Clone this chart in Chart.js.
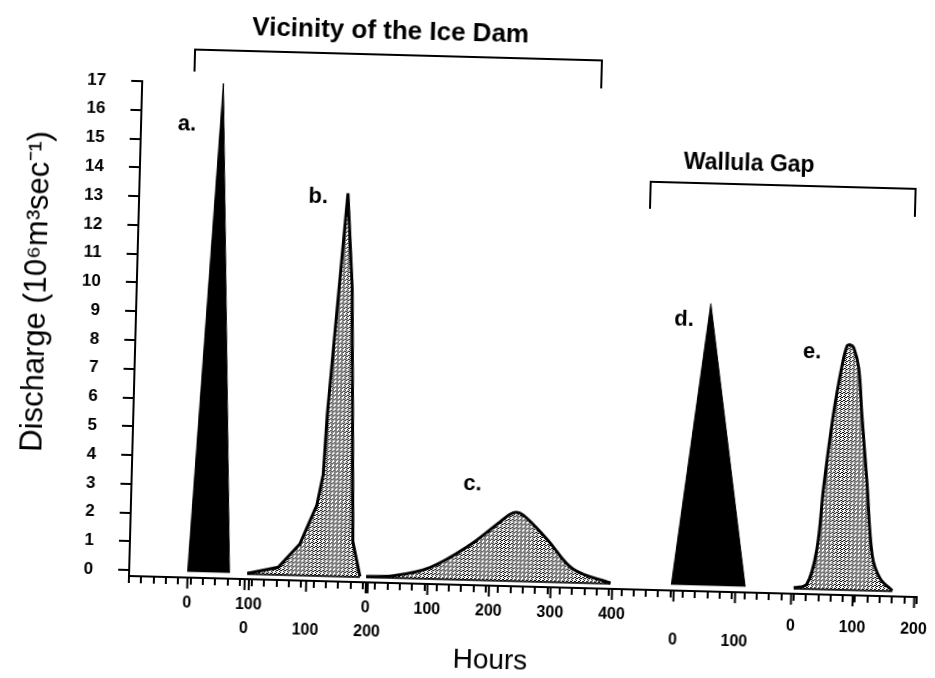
<!DOCTYPE html>
<html>
<head>
<meta charset="utf-8">
<script src="https://cdn.jsdelivr.net/npm/chart.js@4.4.1/dist/chart.umd.min.js"></script>
<style>
  html, body { margin: 0; padding: 0; background: #fff; overflow: hidden; }
  #wrap { width: 935px; height: 678px; }
  /* the scanned figure sits slightly askew */
  #chart { transform: rotate(1.53deg); transform-origin: 129px 576px; }
</style>
</head>
<body>
<div id="wrap"><canvas id="chart" width="935" height="678"></canvas></div>
<script>
// hydrographs: hours on each panel's own axis, discharge in 10^6 m3/s
var aHours = [0, 37, 68];
var aFlow = [0, 17, 0];
var bHours = [4, 54, 88, 114, 123, 127, 151, 162, 174, 187];
var bFlow = [0, 0.24, 1.07, 2.44, 3.5, 5.6, 13.3, 10.0, 1.2, 0];
var cHours = [0, 44, 104, 167, 215, 236, 252, 292, 336, 397];
var cFlow = [0, 0.05, 0.38, 1.19, 2.02, 2.35, 2.29, 1.47, 0.45, 0];
var dHours = [-4, 48, 116];
var dFlow = [0, 9.8, 0];
var eHours = [4, 25, 40, 48, 61, 73, 80, 85, 91, 100, 107, 118, 130, 144, 164];
var eFlow = [0, 0.15, 1.4, 3.5, 6.1, 7.8, 8.45, 8.5, 8.4, 7.7, 6.1, 3.8, 1.2, 0.4, 0];

// where each panel's hour 0 falls on the shared time line
var panelStart = [95, 188, 385, 885, 1076];
var aTicks = [0, 100];
var bTicks = [0, 100, 200];
var cTicks = [0, 100, 200, 300, 400];
var dTicks = [0, 100];
var eTicks = [0, 100, 200];
var panelNames = ['a.', 'b.', 'c.', 'd.', 'e.'];

var canvas = document.getElementById('chart');
var ctx = canvas.getContext('2d');

function stipple() {
  var c = document.createElement('canvas');
  c.width = 4;
  c.height = 4;
  var g = c.getContext('2d');
  g.fillStyle = '#fff';
  g.fillRect(0, 0, 4, 4);
  g.fillStyle = '#000';
  [[0, 0], [2, 1], [1, 2], [3, 3], [3, 1], [0, 2]].forEach(function (p) {
    g.fillRect(p[0], p[1], 1, 1);
  });
  return ctx.createPattern(c, 'repeat');
}
var dots = stipple();

function series(start, hours, flow) {
  return hours.map(function (h, i) {
    return { x: start + h, y: flow[i] };
  });
}

// the bottom edge of an outlined hydrograph
function base(start, hours) {
  return [{ x: start + hours[0], y: 0 }, { x: start + hours[hours.length - 1], y: 0 }];
}

function filled(points, colour, width, tension) {
  return { data: points, backgroundColor: colour, borderColor: '#000', borderWidth: width, fill: 'origin', tension: tension };
}

function edge(points) {
  return { data: points, borderColor: '#000', borderWidth: 3, fill: false };
}

// label row: distance below the axis
var panels = [
  { ticks: aTicks, row: 26 },
  { ticks: bTicks, row: 50 },
  { ticks: cTicks, row: 26 },
  { ticks: dTicks, row: 50 },
  { ticks: eTicks, row: 33 }
];
panels.forEach(function (p, i) { p.start = panelStart[i]; });

var font = '"Liberation Sans", Arial, Helvetica, sans-serif';

var extras = {
  id: 'extras',
  afterDraw: function (chart) {
    var c = chart.ctx;
    var xs = chart.scales.x;
    var area = chart.chartArea;
    c.save();
    c.fillStyle = '#000';
    c.strokeStyle = '#000';
    c.lineWidth = 2;
    c.textAlign = 'center';
    c.textBaseline = 'middle';

    // each panel's own hour labels with longer ticks
    c.font = 'bold 16px ' + font;
    panels.forEach(function (p) {
      p.ticks.forEach(function (t) {
        var px = xs.getPixelForValue(p.start + t);
        c.beginPath();
        c.moveTo(px, area.bottom);
        c.lineTo(px, area.bottom + 11);
        c.stroke();
        c.fillText(String(t), px, area.bottom + p.row);
      });
    });

    // panel letters
    c.font = 'bold 22px ' + font;
    var letterPos = [[175, 123], [308, 192], [470, 475], [677, 305], [806, 334]];
    panelNames.forEach(function (n, i) {
      c.fillText(n, letterPos[i][0], letterPos[i][1]);
    });

    // brackets
    c.beginPath();
    c.moveTo(181, 70); c.lineTo(181, 48); c.lineTo(588, 48); c.lineTo(588, 76);
    c.stroke();
    c.beginPath();
    c.moveTo(640, 195); c.lineTo(640, 168); c.lineTo(905, 168); c.lineTo(905, 196);
    c.stroke();
    c.font = 'bold 26px ' + font;
    c.fillText('Vicinity of the Ice Dam', 376, 25);
    c.font = 'bold 23px ' + font;
    c.fillText('Wallula Gap', 738, 148);

    // axis titles
    c.font = '28px ' + font;
    c.fillText('Hours', 492, 651);
    c.translate(29, 294);
    c.rotate(-Math.PI / 2);
    c.font = '31px ' + font;
    c.fillText('Discharge (10\u2076m\u00B3sec\u207B\u00B9)', 0, 0);
    c.restore();
  }
};

new Chart(ctx, {
  type: 'line',
  data: {
    datasets: [
      filled(series(panelStart[0], aHours, aFlow), '#000', 1, 0),
      filled(series(panelStart[1], bHours, bFlow), dots, 3, 0),
      edge(base(panelStart[1], bHours)),
      filled(series(panelStart[2], cHours, cFlow), dots, 3, 0.35),
      edge(base(panelStart[2], cHours)),
      filled(series(panelStart[3], dHours, dFlow), '#000', 1, 0),
      filled(series(panelStart[4], eHours, eFlow), dots, 3, 0.35),
      edge(base(panelStart[4], eHours))
    ]
  },
  options: {
    responsive: false,
    animation: false,
    layout: { padding: { top: 81, right: 18, left: 0, bottom: 0 } },
    elements: { point: { radius: 0 } },
    plugins: {
      legend: { display: false },
      tooltip: { enabled: false }
    },
    scales: {
      x: {
        type: 'linear',
        min: 0,
        max: 1280,
        ticks: { stepSize: 20, display: false },
        grid: { drawOnChartArea: false, tickLength: 7, color: '#000', lineWidth: 2 },
        border: { color: '#000', width: 2 },
        afterFit: function (s) { s.height = 102; }
      },
      y: {
        min: -0.2,
        max: 17,
        ticks: {
          stepSize: 1,
          includeBounds: false,
          padding: 25,
          color: '#000',
          font: { family: font, size: 17, weight: 'bold' }
        },
        grid: { drawOnChartArea: false, tickLength: 11, color: '#000', lineWidth: 2 },
        border: { color: '#000', width: 2 },
        afterFit: function (s) { s.width = 129; }
      }
    }
  },
  plugins: [extras]
});
</script>
</body>
</html>
